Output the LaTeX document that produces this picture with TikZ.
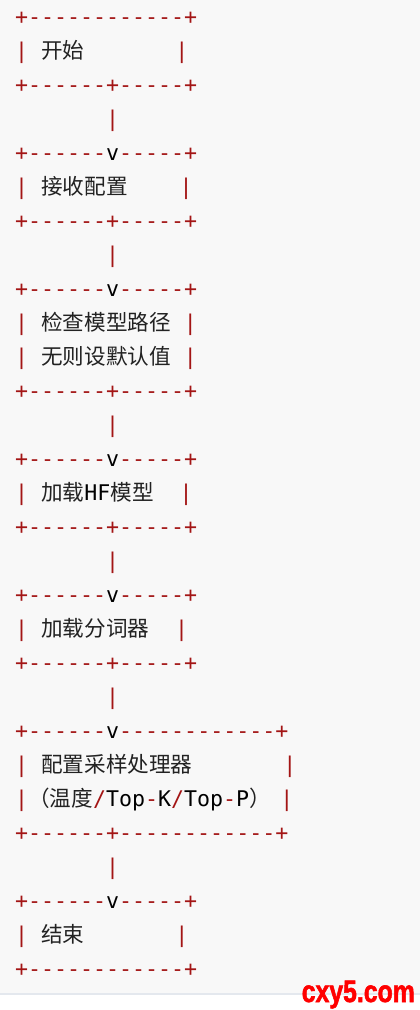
\documentclass[tikz,border=0pt]{standalone}
\usepackage{fontspec}
\setmonofont{DejaVu Sans Mono}
\newfontfamily\cjk{Noto Sans CJK SC}
\newfontfamily\wmfont[BoldFeatures={FakeBold=2}]{Liberation Sans}
\usepackage{xcolor}
\definecolor{codered}{RGB}{163,21,21}
\definecolor{codebg}{HTML}{F8F8F8}
\definecolor{cjkgray}{HTML}{222222}
\definecolor{rulegray}{HTML}{E4E8EE}
\newcommand\rd[1]{\textcolor{codered}{#1}}
\newcommand\zh[1]{{\cjk\color{cjkgray}#1}}
\newcommand\gap[1]{\hspace*{#1\fontcharwd\font`\x}}

\begin{document}
\begin{tikzpicture}[x=1pt,y=-1pt,
  row/.style={anchor=base west,inner sep=0,text=black,font=\ttfamily\fontsize{21.6}{34}\selectfont}]
\useasboundingbox (0,0) rectangle (420,1010);
\fill[codebg](0,0)rectangle(420,993);
\draw[rulegray,line width=1.5pt](0,994)--(420,994);
%start
\node[row] (l1) at (15,24) {\rd{+------------+}};
\node[row] (l2) at (15,58) {\rd{|}\gap1\zh{开始}\gap7\rd{|}};
\node[row] (l3) at (15,92) {\rd{+------+-----+}};
\node[row] (l4) at (15,126) {\gap7\rd{|}};
%config
\node[row] (l5) at (15,160) {\rd{+------}v\rd{-----+}};
\node[row] (l6) at (15,194) {\rd{|}\gap1\zh{接收配置}\gap4\rd{|}};
\node[row] (l7) at (15,228) {\rd{+------+-----+}};
\node[row] (l8) at (15,262) {\gap7\rd{|}};
%model path
\node[row] (l9) at (15,296) {\rd{+------}v\rd{-----+}};
\node[row] (l10) at (15,330) {\rd{|}\gap1\zh{检查模型路径}\gap1\rd{|}};
\node[row] (l11) at (15,364) {\rd{|}\gap1\zh{无则设默认值}\gap1\rd{|}};
\node[row] (l12) at (15,398) {\rd{+------+-----+}};
\node[row] (l13) at (15,432) {\gap7\rd{|}};
%model
\node[row] (l14) at (15,466) {\rd{+------}v\rd{-----+}};
\node[row] (l15) at (15,500) {\rd{|}\gap1\zh{加载}HF\zh{模型}\gap2\rd{|}};
\node[row] (l16) at (15,534) {\rd{+------+-----+}};
\node[row] (l17) at (15,568) {\gap7\rd{|}};
%tokenizer
\node[row] (l18) at (15,602) {\rd{+------}v\rd{-----+}};
\node[row] (l19) at (15,636) {\rd{|}\gap1\zh{加载分词器}\gap2\rd{|}};
\node[row] (l20) at (15,670) {\rd{+------+-----+}};
\node[row] (l21) at (15,704) {\gap7\rd{|}};
%sampling
\node[row] (l22) at (15,738) {\rd{+------}v\rd{------------+}};
\node[row] (l23) at (15,772) {\rd{|}\gap1\zh{配置采样处理器}\gap7\rd{|}};
\node[row] (l24) at (15,806) {\rd{|}\zh{（温度}\rd{/}Top\rd{-}K\rd{/}Top\rd{-}P\zh{）}\gap{.75}\rd{|}};
\node[row] (l25) at (15,840) {\rd{+------+------------+}};
\node[row] (l26) at (15,874) {\gap7\rd{|}};
%end
\node[row] (l27) at (15,908) {\rd{+------}v\rd{-----+}};
\node[row] (l28) at (15,942) {\rd{|}\gap1\zh{结束}\gap7\rd{|}};
\node[row] (l29) at (15,976) {\rd{+------------+}};
\node[anchor=base east,inner sep=0,text=red,font=\wmfont\bfseries\fontsize{31}{31}\selectfont] (wm) at (415,1002) {\scalebox{.8}[1]{cxy5.com}};
\end{tikzpicture}
\end{document}
